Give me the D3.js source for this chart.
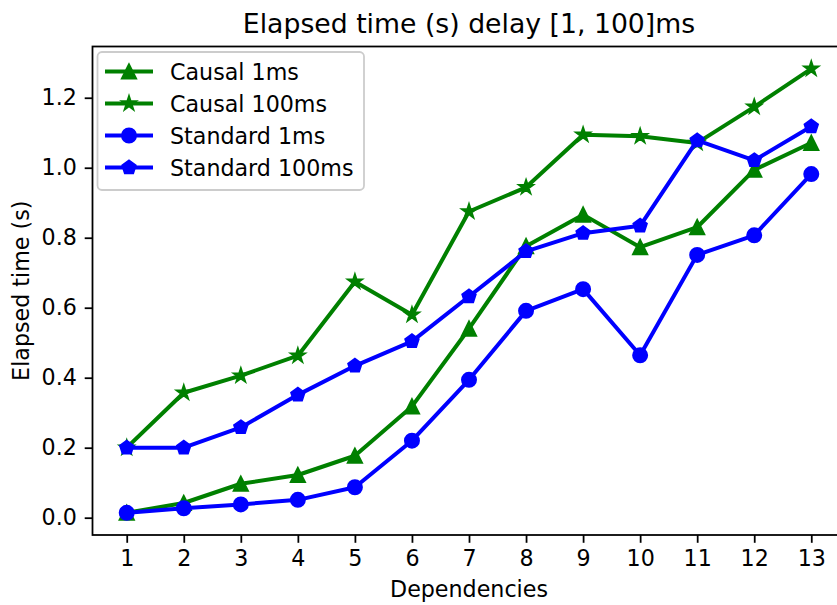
<!DOCTYPE html>
<html>
<head>
<meta charset="utf-8">
<script src="https://cdn.jsdelivr.net/npm/d3@7"></script>
<style>
  html, body { margin: 0; padding: 0; background: #fff; }
  svg { display: block; font-family: "DejaVu Sans", sans-serif; }
</style>
</head>
<body>
<svg id="chart" width="837" height="605"></svg>
<script>
// ---- Data ----
const dependencies = [1, 2, 3, 4, 5, 6, 7, 8, 9, 10, 11, 12, 13];
const causal1ms   = [0.014, 0.042, 0.097, 0.122, 0.177, 0.318, 0.540, 0.776, 0.866, 0.773, 0.830, 0.994, 1.071];
const causal100ms = [0.200, 0.357, 0.406, 0.463, 0.674, 0.580, 0.875, 0.944, 1.094, 1.090, 1.071, 1.174, 1.283];
const standard1ms = [0.014, 0.027, 0.038, 0.051, 0.087, 0.220, 0.394, 0.591, 0.653, 0.464, 0.751, 0.807, 0.982];
const standard100ms = [0.200, 0.200, 0.258, 0.351, 0.434, 0.504, 0.632, 0.761, 0.813, 0.834, 1.078, 1.021, 1.118];
const seriesNames = ["Causal 1ms", "Causal 100ms", "Standard 1ms", "Standard 100ms"];
const yTicks = [0.0, 0.2, 0.4, 0.6, 0.8, 1.0, 1.2];
const titleText = "Elapsed time (s) delay [1, 100]ms";
const xLabelText = "Dependencies";
const yLabelText = "Elapsed time (s)";

const series = [
  { name: seriesNames[0], values: causal1ms,    color: "green", marker: "triangle" },
  { name: seriesNames[1], values: causal100ms,  color: "green", marker: "star" },
  { name: seriesNames[2], values: standard1ms,  color: "blue",  marker: "circle" },
  { name: seriesNames[3], values: standard100ms, color: "blue", marker: "pentagon" }
];

// ---- Layout ----
const pLeft = 92.5, pRight = 845.5, pTop = 46.5, pBottom = 535;
const svg = d3.select("#chart");

const allVals = [].concat(causal1ms, causal100ms, standard1ms, standard100ms);
const yMin = d3.min(allVals), yMax = d3.max(allVals);
const yPad = (yMax - yMin) * 0.05;
const xMin = d3.min(dependencies), xMax = d3.max(dependencies);
const xPad = (xMax - xMin) * 0.05;

const x = d3.scaleLinear().domain([xMin - xPad, xMax + xPad]).range([pLeft, pRight]);
const y = d3.scaleLinear().domain([yMin - yPad, yMax + yPad]).range([pBottom, pTop]);

// ---- Marker shapes ----
const R = 6.9;
function markerPath(type) {
  const p = d3.path();
  if (type === "circle") {
    p.moveTo(R, 0); p.arc(0, 0, R, 0, 2 * Math.PI);
  } else if (type === "triangle") {
    p.moveTo(0, -R); p.lineTo(-R, R); p.lineTo(R, R); p.closePath();
  } else if (type === "star") {
    const inner = R * 0.381966;
    for (let i = 0; i < 10; i++) {
      const r = i % 2 === 0 ? R : inner;
      const a = -Math.PI / 2 + i * Math.PI / 5;
      const px = r * Math.cos(a), py = r * Math.sin(a);
      if (i === 0) p.moveTo(px, py); else p.lineTo(px, py);
    }
    p.closePath();
  } else if (type === "pentagon") {
    for (let i = 0; i < 5; i++) {
      const a = -Math.PI / 2 + i * 2 * Math.PI / 5;
      const px = R * Math.cos(a), py = R * Math.sin(a);
      if (i === 0) p.moveTo(px, py); else p.lineTo(px, py);
    }
    p.closePath();
  }
  return p.toString();
}

// ---- Axes ----
const axisFont = 22.2;
const xAxis = d3.axisBottom(x).tickValues(dependencies).tickFormat(d3.format("d"))
  .tickSize(7.8).tickPadding(7.8);
const yAxis = d3.axisLeft(y).tickValues(yTicks).tickFormat(d3.format(".1f"))
  .tickSize(7.8).tickPadding(7.8);

const gx = svg.append("g").attr("transform", `translate(0,${pBottom})`).call(xAxis);
const gy = svg.append("g").attr("transform", `translate(${pLeft},0)`).call(yAxis);
[gx, gy].forEach(g => {
  g.select(".domain").remove();
  g.selectAll(".tick line").attr("stroke", "#000").attr("stroke-width", 1.78);
  g.selectAll(".tick text").attr("fill", "#000").style("font-size", axisFont + "px")
    .style("font-family", "DejaVu Sans, sans-serif");
});

// spines
svg.append("rect").attr("x", pLeft).attr("y", pTop)
  .attr("width", pRight - pLeft).attr("height", pBottom - pTop)
  .attr("fill", "none").attr("stroke", "#000").attr("stroke-width", 1.78);

// ---- Lines & markers ----
const plotG = svg.append("g");
const line = d3.line().x((d, i) => x(dependencies[i])).y(d => y(d));
series.forEach(s => {
  const g = plotG.append("g");
  g.append("path").datum(s.values).attr("d", line)
    .attr("fill", "none").attr("stroke", s.color).attr("stroke-width", 4)
    .attr("stroke-linejoin", "round").attr("stroke-linecap", "square");
  g.selectAll("path.m").data(s.values).enter().append("path").attr("class", "m")
    .attr("d", markerPath(s.marker))
    .attr("transform", (d, i) => `translate(${x(dependencies[i])},${y(d)})`)
    .attr("fill", s.color).attr("stroke", s.color).attr("stroke-width", 2.2)
    .attr("stroke-linejoin", "miter");
});

// ---- Legend ----
const leg = svg.append("g");
leg.append("rect").attr("x", 97.5).attr("y", 52).attr("width", 266.5).attr("height", 138)
  .attr("rx", 4.4).attr("ry", 4.4)
  .attr("fill", "#fff").attr("fill-opacity", 0.8)
  .attr("stroke", "#cccccc").attr("stroke-width", 1.78);
series.forEach((s, i) => {
  const cy = 71.5 + i * 32;
  leg.append("line").attr("x1", 105).attr("x2", 153).attr("y1", cy).attr("y2", cy)
    .attr("stroke", s.color).attr("stroke-width", 4).attr("stroke-linecap", "butt");
  leg.append("path").attr("d", markerPath(s.marker))
    .attr("transform", `translate(129,${cy})`)
    .attr("fill", s.color).attr("stroke", s.color).attr("stroke-width", 2.2);
  leg.append("text").attr("x", 170).attr("y", cy + 8)
    .style("font-size", axisFont + "px").attr("fill", "#000").text(s.name);
});

// ---- Title & labels ----
const cx = (pLeft + pRight) / 2;
svg.append("text").attr("x", cx).attr("y", 33).attr("text-anchor", "middle")
  .style("font-size", "26.7px").attr("fill", "#000").text(titleText);
svg.append("text").attr("x", cx).attr("y", 597).attr("text-anchor", "middle")
  .style("font-size", axisFont + "px").attr("fill", "#000").text(xLabelText);
svg.append("text").attr("transform", `translate(29,${(pTop + pBottom) / 2}) rotate(-90)`)
  .attr("text-anchor", "middle")
  .style("font-size", axisFont + "px").attr("fill", "#000").text(yLabelText);
</script>
</body>
</html>
